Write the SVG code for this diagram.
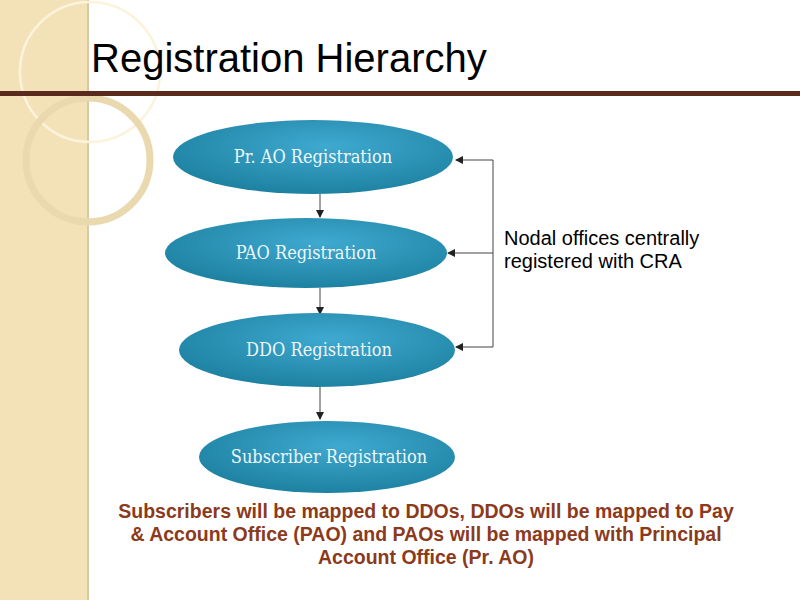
<svg xmlns="http://www.w3.org/2000/svg" width="800" height="600" viewBox="0 0 800 600">
<defs>
<radialGradient id="g" cx="0.55" cy="0.35" r="0.7"><stop offset="0" stop-color="#3fa9d0"/><stop offset="1" stop-color="#1b7f9e"/></radialGradient>
<marker id="a" markerWidth="8" markerHeight="8" refX="7" refY="4" orient="auto" markerUnits="userSpaceOnUse"><path d="M0,0 L8,4 L0,8 z" fill="#222"/></marker>
<style>
.n{fill:url(#g)}
.nt{fill:#eef6fa;font-family:"DejaVu Serif Condensed","DejaVu Serif","Liberation Serif",serif;font-size:18px;text-anchor:middle}
.c{stroke:#444;stroke-width:1;fill:none;marker-end:url(#a)}
</style>
</defs>
<rect width="800" height="600" fill="#fff"/>
<rect width="88" height="600" fill="#f3e2b8"/>
<line x1="88" y1="0" x2="88" y2="600" stroke="#d8c9a4" stroke-width="2"/>
<circle cx="90" cy="72" r="70" fill="none" stroke="#fbf3dc" stroke-width="2.5"/>
<circle cx="88" cy="160" r="62" fill="none" stroke="#ead9ae" stroke-width="7"/>
<text x="91" y="72" font-family="Liberation Sans,Arial,sans-serif" font-size="40" fill="#000">Registration Hierarchy</text>
<rect x="0" y="91" width="800" height="5" fill="#5a2a1c"/>
<g id="connectors">
<path class="c" d="M320,194 V217"/>
<path class="c" d="M320,288 V314"/>
<path class="c" d="M320,387 V419"/>
<path class="c" d="M493,160 H456"/>
<path class="c" d="M493,253 H448"/>
<path class="c" d="M493,347 H456"/>
<line x1="493" y1="160" x2="493" y2="347" stroke="#444"/>
</g>
<g id="n1"><ellipse class="n" cx="313" cy="157" rx="140" ry="37"/><text class="nt" x="313" y="163">Pr. AO Registration</text></g>
<g id="n2"><ellipse class="n" cx="306" cy="253" rx="141" ry="35"/><text class="nt" x="306" y="259">PAO Registration</text></g>
<g id="n3"><ellipse class="n" cx="317" cy="350" rx="138" ry="37"/><text class="nt" x="319" y="356">DDO Registration</text></g>
<g id="n4"><ellipse class="n" cx="327" cy="457" rx="128" ry="36"/><text class="nt" x="329" y="463">Subscriber Registration</text></g>
<g id="note" font-family="Liberation Sans,Arial,sans-serif" font-size="20" fill="#000">
<text x="504" y="245">Nodal offices centrally</text>
<text x="504" y="268">registered with CRA</text>
</g>
<g id="caption" font-family="Liberation Sans,Arial,sans-serif" font-size="19.5" font-weight="bold" fill="#8b3a1c" text-anchor="middle">
<text x="426" y="518">Subscribers will be mapped to DDOs, DDOs will be mapped to Pay</text>
<text x="426" y="541">&amp; Account Office (PAO) and PAOs will be mapped with Principal</text>
<text x="426" y="564">Account Office (Pr. AO)</text>
</g>
</svg>
